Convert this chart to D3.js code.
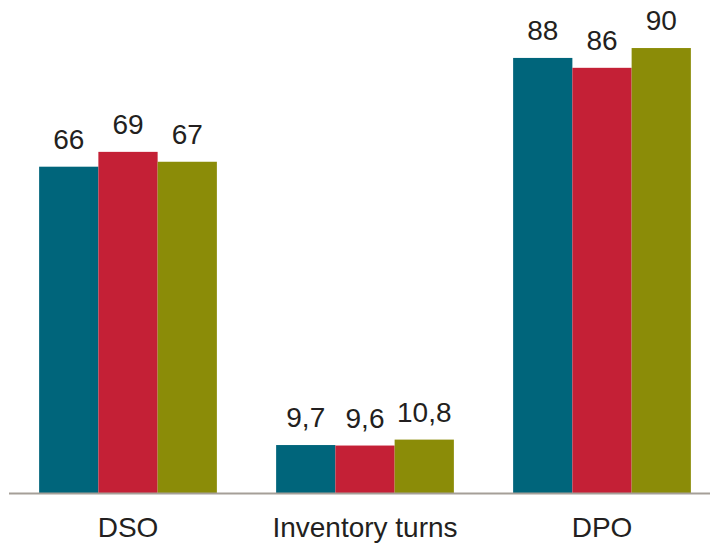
<!DOCTYPE html>
<html>
<head>
<meta charset="utf-8">
<script src="https://cdn.jsdelivr.net/npm/d3@7"></script>
<style>
  html, body { margin: 0; padding: 0; background: #ffffff; }
  svg { display: block; }
  text { font-family: "Liberation Sans", Arial, sans-serif; fill: #231f20; }
</style>
</head>
<body>
<svg id="chart" width="710" height="543"></svg>
<script>
// Working-capital metrics, three periods per metric
const categories = ["DSO", "Inventory turns", "DPO"];
const seriesA = [66, 9.7, 88];
const seriesB = [69, 9.6, 86];
const seriesC = [67, 10.8, 90];
const seriesColors = ["#00657b", "#c42036", "#8b8c08"];

const series = [seriesA, seriesB, seriesC];
const fmt = v => String(v).replace(".", ",");

const svg = d3.select("#chart");
const baseline = 493;

const x = d3.scaleBand()
  .domain(categories)
  .range([9.5, 720.5])
  .paddingInner(0.25)
  .paddingOuter(0.125);

const xi = d3.scaleBand()
  .domain(d3.range(series.length))
  .range([0, x.bandwidth()]);

const y = d3.scaleLinear()
  .domain([0, 100])
  .range([baseline, baseline - 494.4]);

const groups = svg.selectAll("g.group")
  .data(categories)
  .join("g")
  .attr("class", "group")
  .attr("transform", d => `translate(${x(d)},0)`);

groups.selectAll("rect")
  .data((c, ci) => series.map((s, si) => ({ si, v: s[ci] })))
  .join("rect")
  .attr("x", d => xi(d.si))
  .attr("width", xi.bandwidth())
  .attr("y", d => y(d.v))
  .attr("height", d => baseline - y(d.v))
  .attr("fill", d => seriesColors[d.si]);

groups.selectAll("text.value")
  .data((c, ci) => series.map((s, si) => ({ si, v: s[ci] })))
  .join("text")
  .attr("class", "value")
  .attr("x", d => xi(d.si) + xi.bandwidth() / 2)
  .attr("y", d => y(d.v) - 18)
  .attr("text-anchor", "middle")
  .attr("font-size", 28)
  .text(d => fmt(d.v));

// baseline axis
svg.append("line")
  .attr("x1", 9).attr("x2", 710)
  .attr("y1", baseline + 0.5).attr("y2", baseline + 0.5)
  .attr("stroke", "#a59f98")
  .attr("stroke-width", 2);

// category labels
svg.selectAll("text.cat")
  .data(categories)
  .join("text")
  .attr("class", "cat")
  .attr("x", d => x(d) + x.bandwidth() / 2)
  .attr("y", 537)
  .attr("text-anchor", "middle")
  .attr("font-size", 28)
  .text(d => d);
</script>
</body>
</html>
